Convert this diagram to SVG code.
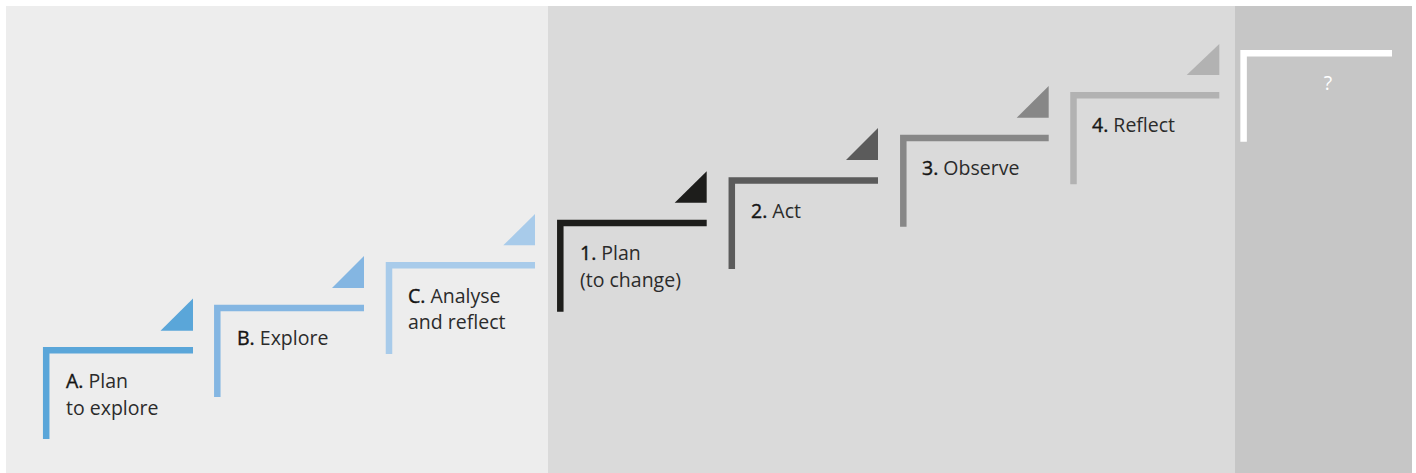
<svg xmlns="http://www.w3.org/2000/svg" width="1416" height="473" viewBox="0 0 1416 473">
<style>
.lbl{font-family:"Open Sans","Liberation Sans",sans-serif;font-size:19.5px;fill:#2b2b2b}
.pre{fill:#151515;stroke:#151515;stroke-width:0.4}
.step{fill:none;stroke-width:6.5;stroke-linejoin:miter;stroke-linecap:butt}
</style>
<rect x="0" y="0" width="1416" height="473" fill="#ffffff"/>
<rect x="6" y="6" width="542" height="467" fill="#ededed"/>
<rect x="548" y="6" width="687" height="467" fill="#dadada"/>
<rect x="1235" y="6" width="177" height="467" fill="#c6c6c6"/>

<g id="stepA">
<path class="step" stroke="#5aa6d9" d="M46.2 439 V350.2 H193"/>
<polygon fill="#5aa6d9" points="160.5,330.7 193,330.7 193,298.5"/>
<text class="lbl" x="66" y="388"><tspan class="pre">A.</tspan> Plan</text>
<text class="lbl" x="66" y="415">to explore</text>
</g>
<g id="stepB">
<path class="step" stroke="#84b6e2" d="M217.3 397 V308 H364"/>
<polygon fill="#84b6e2" points="332,288 364,288 364,256"/>
<text class="lbl" x="237" y="345"><tspan class="pre">B.</tspan> Explore</text>
</g>
<g id="stepC">
<path class="step" stroke="#a8cbea" d="M389 354 V265.3 H535"/>
<polygon fill="#a8cbea" points="503.3,245.3 535,245.3 535,214"/>
<text class="lbl" x="408" y="303"><tspan class="pre">C.</tspan> Analyse</text>
<text class="lbl" x="408" y="329">and reflect</text>
</g>
<g id="step1">
<path class="step" stroke="#1d1d1b" d="M560.3 311.7 V223 H706.7"/>
<polygon fill="#1d1d1b" points="674.7,202.7 706.7,202.7 706.7,171.3"/>
<text class="lbl" x="580" y="260"><tspan class="pre">1.</tspan> Plan</text>
<text class="lbl" x="580" y="287">(to change)</text>
</g>
<g id="step2">
<path class="step" stroke="#5b5b5b" d="M731.8 269 V180.6 H878"/>
<polygon fill="#5b5b5b" points="846,160 878,160 878,128"/>
<text class="lbl" x="751" y="218"><tspan class="pre">2.</tspan> Act</text>
</g>
<g id="step3">
<path class="step" stroke="#878787" d="M903.3 226.7 V138 H1048.7"/>
<polygon fill="#878787" points="1016.7,117.7 1048.7,117.7 1048.7,86"/>
<text class="lbl" x="922" y="175"><tspan class="pre">3.</tspan> Observe</text>
</g>
<g id="step4">
<path class="step" stroke="#b2b2b2" d="M1073.5 184.3 V95.3 H1219.3"/>
<polygon fill="#b2b2b2" points="1186.7,75 1219.3,75 1219.3,44"/>
<text class="lbl" x="1092" y="132"><tspan class="pre">4.</tspan> Reflect</text>
</g>
<g id="stepNext">
<path class="step" stroke="#ffffff" d="M1243.6 141.7 V53.3 H1392"/>
<text class="lbl" x="1328" y="90" text-anchor="middle" style="fill:#ffffff">?</text>
</g>
</svg>
